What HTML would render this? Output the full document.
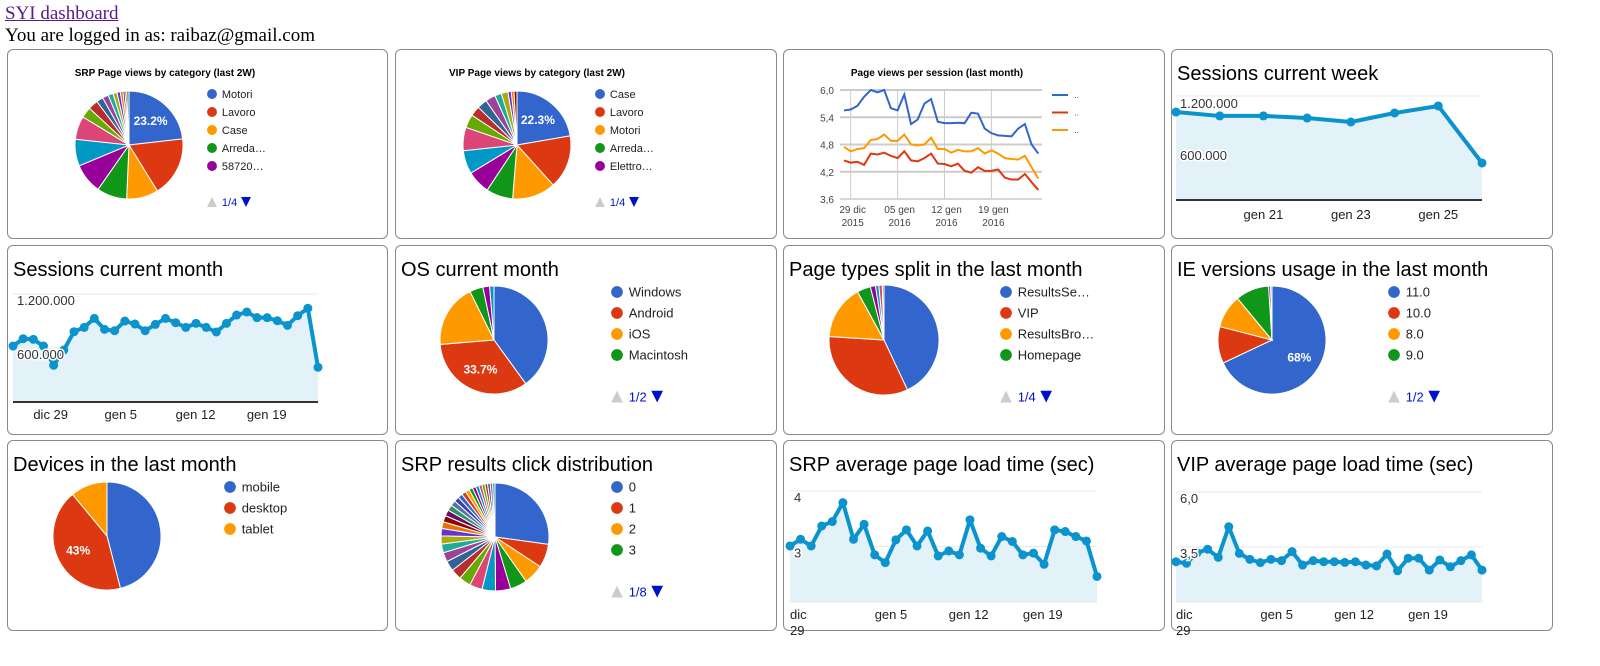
<!DOCTYPE html>
<html><head><meta charset="utf-8"><style>
body{margin:0;width:1600px;height:666px;overflow:hidden;background:#fff;font-family:"Liberation Serif",serif;position:relative}
#hdr{position:absolute;left:5px;top:3px;font-size:19px;line-height:22px;color:#000}
#hdr a{color:#551a8b}
.panel{position:absolute;border:1px solid #8a8a8a;border-radius:6px;box-sizing:border-box}
svg{position:absolute;left:0;top:0}
</style></head><body>
<div id="hdr"><a href="#">SYI dashboard</a><br><span>You are logged in as: raibaz@gmail.com</span></div>
<div class="panel" style="left:7px;top:49px;width:381px;height:190px"></div>
<div class="panel" style="left:395px;top:49px;width:382px;height:190px"></div>
<div class="panel" style="left:783px;top:49px;width:382px;height:190px"></div>
<div class="panel" style="left:1171px;top:49px;width:382px;height:190px"></div>
<div class="panel" style="left:7px;top:245px;width:381px;height:190px"></div>
<div class="panel" style="left:395px;top:245px;width:382px;height:190px"></div>
<div class="panel" style="left:783px;top:245px;width:382px;height:190px"></div>
<div class="panel" style="left:1171px;top:245px;width:382px;height:190px"></div>
<div class="panel" style="left:7px;top:440px;width:381px;height:191px"></div>
<div class="panel" style="left:395px;top:440px;width:382px;height:191px"></div>
<div class="panel" style="left:783px;top:440px;width:382px;height:191px"></div>
<div class="panel" style="left:1171px;top:440px;width:382px;height:191px"></div>
<svg id="c" width="1600" height="666" xmlns="http://www.w3.org/2000/svg" font-family="Liberation Sans, sans-serif"></svg>
<script>
// ---- data ----
const srpCatValues=[23.2,18,9.5,9,9,8,7,3.2,3,2,1.8,1.5,1.2,1,0.8,0.6,0.5,0.7];
const srpCatLabels=["Motori","Lavoro","Case","Arreda…","58720…"];
const vipCatValues=[22.3,16,13,8,7,7,7,4,3,3,3,2,2,1,0.8,0.9];
const vipCatLabels=["Case","Lavoro","Motori","Arreda…","Elettro…"];
const pvDays=["29 dic|2015","05 gen|2016","12 gen|2016","19 gen|2016"];
const pvTicks=[3.6,4.2,4.8,5.4,6.0];
const pvBlue=[5.55,5.57,5.65,5.85,6.0,5.95,6.0,5.6,5.55,5.9,5.25,5.35,5.7,5.8,5.3,5.27,5.27,5.28,5.27,5.5,5.48,5.15,5.05,5.0,4.99,4.98,5.15,5.25,4.8,4.6];
const pvRed=[4.45,4.4,4.42,4.35,4.6,4.58,4.62,4.55,4.5,4.65,4.45,4.43,4.5,4.6,4.38,4.37,4.32,4.38,4.22,4.18,4.3,4.22,4.22,4.25,4.07,4.03,4.03,4.15,3.97,3.8];
const pvOrange=[4.75,4.65,4.7,4.72,4.9,4.92,5.02,4.88,4.88,5.02,4.8,4.78,4.8,4.95,4.7,4.7,4.62,4.68,4.65,4.65,4.72,4.6,4.67,4.6,4.5,4.48,4.47,4.55,4.3,4.05];
const weekValues=[1015,970,970,946,900,1004,1085,427];
const weekLabels=["gen 21","gen 23","gen 25"];
const monthValues=[622,703,696,622,408,578,781,829,929,807,792,900,866,792,862,929,881,829,874,829,778,874,966,1000,937,937,903,852,959,1041,386];
const monthLabels=["dic 29","gen 5","gen 12","gen 19"];
const osValues=[40,33.7,19,4,2,1.3];
const osLabels=["Windows","Android","iOS","Macintosh"];
const ptValues=[43,33,16,4,1.5,1,1,0.5];
const ptLabels=["ResultsSe…","VIP","ResultsBro…","Homepage"];
const ieValues=[68,11,10,10,0.6,0.4];
const ieLabels=["11.0","10.0","8.0","9.0"];
const devValues=[46,43,11];
const devLabels=["mobile","desktop","tablet"];
const clickValues=[27,7,6,5,4.5,4,3.8,3.5,3.2,3,2.8,2.6,2.4,2.2,2,1.9,1.8,1.7,1.6,1.5,1.4,1.3,1.2,1.1,1,1,0.9,0.9,0.8,0.8,0.7,0.7];
const clickLabels=["0","1","2","3"];
const srpLoad=[3.01,3.13,3.01,3.37,3.45,3.79,3.13,3.40,2.85,2.71,3.12,3.30,3.01,3.28,2.83,2.92,2.85,3.48,2.97,2.83,3.18,3.09,2.85,2.88,2.68,3.30,3.27,3.18,3.10,2.46];
const vipLoad=[2.83,2.76,3.24,3.40,3.03,4.42,3.21,2.94,2.79,2.94,2.88,3.29,2.68,2.88,2.83,2.83,2.80,2.83,2.68,2.64,3.18,2.42,2.99,2.99,2.45,2.91,2.60,2.88,3.14,2.45];
const loadLabels=["dic|29","gen 5","gen 12","gen 19"];

const COL=["#3366cc","#dc3912","#ff9900","#109618","#990099","#0099c6","#dd4477","#66aa00","#b82e2e","#316395","#994499","#22aa99","#aaaa11","#6633cc","#e67300","#8b0707","#651067","#329262","#5574a6","#3b3eac"];
const S=document.getElementById('c');
const NS="http://www.w3.org/2000/svg";
function mk(tag,attrs,parent){const e=document.createElementNS(NS,tag);for(const k in attrs)e.setAttribute(k,attrs[k]);(parent||S).appendChild(e);return e;}
function txt(x,y,s,size,attrs,parent){const e=mk('text',Object.assign({x:x,y:y,'font-size':size},attrs||{}),parent);e.textContent=s;return e;}
function grp(name){const g=mk('g',{});return g;}

function pie(name,cx,cy,r,vals,labelIdx){
  const g=grp(name);const tot=vals.reduce((a,b)=>a+b,0);let a=-Math.PI/2;
  vals.forEach((v,i)=>{
    const a2=a+v/tot*2*Math.PI;const lg=(a2-a)>Math.PI?1:0;
    const d=`M${cx},${cy}L${cx+r*Math.cos(a)},${cy+r*Math.sin(a)}A${r},${r} 0 ${lg} 1 ${cx+r*Math.cos(a2)},${cy+r*Math.sin(a2)}Z`;
    const p=mk('path',{d:d,fill:COL[i%COL.length],stroke:'#fff','stroke-width':1},g);
    
    
    if(i===labelIdx){const m=(a+a2)/2;const t=txt(cx+r*0.6*Math.cos(m),cy+r*0.6*Math.sin(m)+4,(v/tot*100).toFixed(v/tot>=0.5?0:1).replace(/\.0$/,'')+'%',12,{fill:'#fff','text-anchor':'middle','font-weight':'bold'},g);
      }
    a=a2;
  });
}
function legend(name,x,y0,dy,labels,size,pager){
  const g=grp(name);
  labels.forEach((l,i)=>{
    const e=mk('circle',{cx:x,cy:y0+i*dy,r:size*0.45,fill:COL[i]},g);
    
    
    const t=txt(x+size*0.9,y0+i*dy+size*0.36,l,size,{fill:'#222'},g);
    
    
  });
  if(pager){const py=y0+labels.length*dy+(labels.length>4?dy*0.5+9:dy*0.6+8);const s=size*0.45;
    const up=mk('path',{d:`M${x-s},${py+s}L${x+s},${py+s}L${x},${py-s}Z`,fill:'#ccc'},g);
    
    const t=txt(x+size*0.9,py+size*0.36,pager,size,{fill:'#0011cc'},g);
    
    const dx=x+size*0.9+t.getComputedTextLength()+size*0.8;
    const dn=mk('path',{d:`M${dx-s},${py-s}L${dx+s},${py-s}L${dx},${py+s}Z`,fill:'#0011cc'},g);
    
  }
}
function title(name,x,y,s,size,bold,anchor){const t=txt(x,y,s,size,{fill:'#000','font-weight':bold?'bold':'normal','text-anchor':anchor||'start'});}

function area(name,vals,x0,x1,yOf,base,opts){
  const g=grp(name);const n=vals.length;const X=i=>x0+(x1-x0)*i/(n-1);
  (opts.grids||[]).forEach(v=>{const l=mk('line',{x1:x0,x2:x1,y1:yOf(v),y2:yOf(v),stroke:'#e8e8e8'},g);});
  let d=`M${X(0)},${base}`;vals.forEach((v,i)=>d+=`L${X(i)},${yOf(v)}`);d+=`L${X(n-1)},${base}Z`;
  const ar=mk('path',{d:d,fill:'#e3f1f8'},g);
  const bl=mk('line',{x1:x0,x2:x1,y1:base,y2:base,stroke:opts.dark?'#333':'#e8e8e8','stroke-width':opts.dark?2:1},g);
  let pl='';vals.forEach((v,i)=>pl+=`${X(i)},${yOf(v)} `);
  const ln=mk('polyline',{points:pl,fill:'none',stroke:'#0a93cd','stroke-width':4,'stroke-linejoin':'round'},g);
  vals.forEach((v,i)=>{const c=mk('circle',{cx:X(i),cy:yOf(v),r:4.5,fill:'#0a93cd'},g);});
  (opts.ylabels||[]).forEach(([v,s])=>{const t=txt(x0+4,yOf(v)+ (opts.labOff||10),s,13,{fill:'#333',stroke:'#fff','stroke-width':3,'paint-order':'stroke'},g);});
  (opts.xlabels||[]).forEach(([i,s])=>{s.split('|').forEach((p,k)=>{const t=txt(x0+(x1-x0)*i/(n-1),opts.xy+k*16,p,13,{fill:'#222','text-anchor':opts.xanchor||'middle'},g);});});
}

title('srp-category-title',165,76,'SRP Page views by category (last 2W)',10,true,'middle');
pie('srp-category-pie',129,145,54,srpCatValues,0);
legend('srp-category-legend',212,94,18,srpCatLabels,11,'1/4');
title('vip-category-title',537,76,'VIP Page views by category (last 2W)',10,true,'middle');
pie('vip-category-pie',517,145,54,vipCatValues,0);
legend('vip-category-legend',600,94,18,vipCatLabels,11,'1/4');

(function(){
  title('pageviews-title',937,76,'Page views per session (last month)',10,true,'middle');
  const g=grp('pageviews-chart');const x0=844,dx=6.7,y=v=>90+(6.0-v)/2.4*109;
  pvTicks.forEach(v=>{const l=mk('line',{x1:840,x2:1042,y1:y(v),y2:y(v),stroke:'#ccc','stroke-width':v===3.6?1.5:2},g);
    const t=txt(834,y(v)+4,v.toFixed(1).replace('.',','),10,{'text-anchor':'end',fill:'#444'},g);});
  pvDays.forEach((s,k)=>{const xx=x0+dx*(1+7*k);const l=mk('line',{x1:xx,x2:xx,y1:90,y2:199,stroke:'#ccc'},g);
    s.split('|').forEach((p,j)=>{const t=txt(xx+2,213+j*13,p,10,{'text-anchor':'middle',fill:'#444'},g);});});
  [[pvBlue,COL[0]],[pvRed,COL[1]],[pvOrange,COL[2]]].forEach(([arr,c],k)=>{
    let pl='';arr.forEach((v,i)=>pl+=`${x0+dx*i},${y(v)} `);
    const p=mk('polyline',{points:pl,fill:'none',stroke:c,'stroke-width':2},g);
    const l=mk('line',{x1:1052,x2:1068,y1:95+k*17.5,y2:95+k*17.5,stroke:c,'stroke-width':2},g);
    const t=txt(1074,98+k*17.5,'..',9,{fill:'#444'},g);
  });
})();

title('sessions-week-title',1177,80,'Sessions current week',20,false);
area('sessions-week-chart',weekValues,1176,1482,v=>200-v/600*52,200,{dark:true,grids:[600,1200],ylabels:[[1200,'1.200.000'],[600,'600.000']],labOff:12,xlabels:[[2,weekLabels[0]],[4,weekLabels[1]],[6,weekLabels[2]]],xy:219});

title('sessions-month-title',13,276,'Sessions current month',20,false);
area('sessions-month-chart',monthValues,13,318,v=>402-v/600*54,402,{dark:true,grids:[600,1200],ylabels:[[1200,'1.200.000'],[600,'600.000']],labOff:11,xlabels:[[2,monthLabels[0]],[9,monthLabels[1]],[16,monthLabels[2]],[23,monthLabels[3]]],xy:419,xanchor:'start'});
title('os-title',401,276,'OS current month',20,false);
pie('os-pie',494,340,54,osValues,1);
legend('os-legend',617,292,21,osLabels,13,'1/2');
title('page-types-title',789,276,'Page types split in the last month',20,false);
pie('page-types-pie',884,340,55,ptValues,-1);
legend('page-types-legend',1006,292,21,ptLabels,13,'1/4');
title('ie-title',1177,276,'IE versions usage in the last month',20,false);
pie('ie-pie',1272,340,54,ieValues,0);
legend('ie-legend',1394,292,21,ieLabels,13,'1/2');

title('devices-title',13,471,'Devices in the last month',20,false);
pie('devices-pie',107,536,54,devValues,1);
legend('devices-legend',230,487,21,devLabels,13,null);
title('srp-click-title',401,471,'SRP results click distribution',20,false);
pie('srp-click-pie',495,537,54,clickValues,-1);
legend('srp-click-legend',617,487,21,clickLabels,13,'1/8');
title('srp-load-title',789,471,'SRP average page load time (sec)',20,false);
area('srp-load-chart',srpLoad,790,1097,v=>602-(v-2)*55.5,602,{grids:[3,4],ylabels:[[4,'4'],[3,'3']],labOff:11,xlabels:[[0,loadLabels[0]],[8,loadLabels[1]],[15,loadLabels[2]],[22,loadLabels[3]]],xy:619,xanchor:'start'});
title('vip-load-title',1177,471,'VIP average page load time (sec)',20,false);
area('vip-load-chart',vipLoad,1176,1482,v=>602-(v-1)*22,602,{grids:[3.5,6],ylabels:[[6,'6,0'],[3.5,'3,5']],labOff:11,xlabels:[[0,loadLabels[0]],[8,loadLabels[1]],[15,loadLabels[2]],[22,loadLabels[3]]],xy:619,xanchor:'start'});
</script>
</body></html>
